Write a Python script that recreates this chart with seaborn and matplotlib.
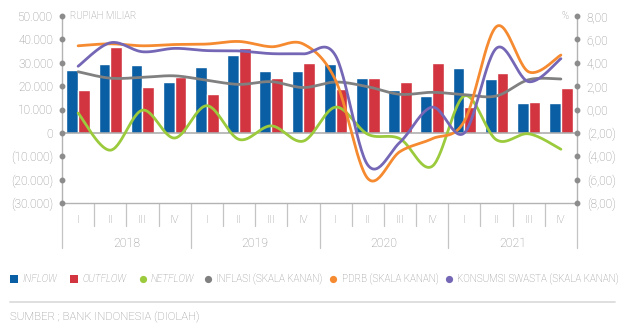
import numpy as np
import pandas as pd
import matplotlib
matplotlib.use("Agg")
import matplotlib.pyplot as plt
import matplotlib.transforms as mtransforms
from matplotlib.lines import Line2D
from matplotlib import font_manager
import seaborn as sns

# ---- data (Rp miliar for flows, % yoy for right-axis series) ----
years = ["2018", "2019", "2020", "2021"]
quarter_labels = ["I", "II", "III", "IV"]
inflow = [27000, 29300, 29000, 21700, 28000, 33500, 26400, 26600,
          29600, 23300, 18500, 15900, 27600, 22900, 12600, 12600]
outflow = [18500, 36700, 19500, 24100, 16500, 36200, 23500, 30000,
           18800, 23600, 21700, 30100, 11100, 25600, 13100, 19400]
netflow = [8500, -7400, 9700, -2200, 11600, -2800, 3000, -3500,
           11000, -600, -2500, -14300, 15800, -3000, -400, -7000]
inflasi = [3.23, 2.68, 2.75, 2.88, 2.50, 2.15, 2.38, 1.88,
           2.35, 1.95, 1.30, 1.47, 1.27, 1.16, 2.55, 2.61]
pdrb = [5.45, 5.62, 5.45, 5.56, 5.60, 5.82, 5.37, 5.60,
        2.50, -5.90, -3.60, -2.50, -1.00, 7.10, 3.22, 4.66]
konsumsi = [3.70, 5.71, 4.94, 5.23, 5.04, 5.01, 4.78, 4.76,
            4.60, -4.75, -2.80, 0.20, -2.00, 5.25, 2.38, 4.35]

BLUE, RED, GREEN = "#0a5ea4", "#d2353f", "#9bcb3c"
GREY, ORANGE, PURPLE = "#808080", "#f58a30", "#7567b5"
TXT = "#8a8a8a"
AXIS = "#b3b3b3"

sns.set_theme(style="white")
available = {f.name for f in font_manager.fontManager.ttflist}
base_font = "Roboto" if "Roboto" in available else "DejaVu Sans"
plt.rcParams["font.family"] = [base_font, "DejaVu Sans"]
plt.rcParams["font.weight"] = "light"

W, H = 621, 324
fig = plt.figure(figsize=(W / 100, H / 100), dpi=100)
ax = fig.add_axes([62 / W, 1 - 203 / H, 515 / W, 187 / H])


def fx(px):
    return px / W


def fy(py):
    return 1 - py / H


def smooth(values, steps=30):
    """Bezier smoothing through every point (Catmull-Rom style tangents)."""
    y = np.asarray(values, float)
    n = len(y)
    pts = np.column_stack([np.arange(n, dtype=float), y])
    t = np.linspace(0, 1, steps + 1)[1:, None]
    out = [pts[0]]
    for i in range(n - 1):
        p0, p3 = pts[i], pts[i + 1]
        prev = pts[i - 1] if i > 0 else pts[i]
        nxt = pts[i + 2] if i + 2 < n else pts[i + 1]
        c1 = p0 + (p3 - prev) / 6
        c2 = p3 - (nxt - p0) / 6
        seg = ((1 - t) ** 3) * p0 + 3 * ((1 - t) ** 2) * t * c1 \
            + 3 * (1 - t) * t ** 2 * c2 + t ** 3 * p3
        out.extend(seg)
    out = np.array(out)
    return out[:, 0], out[:, 1]


periods = [f"{y}-{q}" for y in years for q in quarter_labels]
bars = pd.DataFrame({
    "period": periods * 2,
    "value": inflow + outflow,
    "series": ["INFLOW"] * 16 + ["OUTFLOW"] * 16,
})
sns.barplot(data=bars, x="period", y="value", hue="series", order=periods,
            hue_order=["INFLOW", "OUTFLOW"], palette=[BLUE, RED],
            width=0.73, saturation=1, errorbar=None, legend=False, ax=ax,
            zorder=2)

ax.axhline(0, color="#a8a8a8", lw=1.1, zorder=2.5)

xs, ys = smooth(netflow)
sns.lineplot(x=xs, y=ys, sort=False, estimator=None, color=GREEN, lw=2.0,
             ax=ax, zorder=3)

ax.set_xlim(-0.5, 15.5)
ax.set_ylim(-30000, 50000)
left_ticks = list(range(-30000, 50001, 10000))
ax.set_yticks(left_ticks)
ax.set_yticklabels([f"{v:,.0f}".replace(",", ".") if v >= 0
                    else "(" + f"{-v:,.0f}".replace(",", ".") + ")"
                    for v in left_ticks])
ax.set_xticks([])
ax.set_xlabel("")
ax.set_ylabel("")
ax.tick_params(axis="y", length=0, pad=6.5, labelsize=8.6, labelcolor=TXT)

ax2 = ax.twinx()
for vals, col in [(inflasi, GREY), (pdrb, ORANGE), (konsumsi, PURPLE)]:
    xs, ys = smooth(vals)
    sns.lineplot(x=xs, y=ys, sort=False, estimator=None, color=col, lw=2.0,
                 ax=ax2)
ax2.set_xlim(-0.5, 15.5)
ax2.set_ylim(-8, 8)
right_ticks = list(range(-8, 9, 2))
ax2.set_yticks(right_ticks)
ax2.set_yticklabels([f"{v:.2f}".replace(".", ",") if v >= 0
                     else "(" + f"{-v:.2f}".replace(".", ",") + ")"
                     for v in right_ticks])
ax2.set_ylabel("")
ax2.tick_params(axis="y", length=0, pad=7, labelsize=8.6, labelcolor=TXT)

for a in (ax, ax2):
    a.spines["top"].set_visible(False)
    a.grid(False)
ax.spines["right"].set_visible(False)
ax2.spines["left"].set_visible(False)
ax2.spines["bottom"].set_visible(False)
ax.spines["left"].set_color(AXIS)
ax.spines["bottom"].set_color(AXIS)
ax2.spines["right"].set_color(AXIS)
for s in ("left", "bottom"):
    ax.spines[s].set_linewidth(1.0)
ax2.spines["right"].set_linewidth(1.0)

# tick dots on both value axes
lt = mtransforms.blended_transform_factory(ax.transAxes, ax.transData)
ax.plot([0] * len(left_ticks), left_ticks, "o", ms=3.2, color="#8c8c8c",
        transform=lt, clip_on=False, zorder=5)
rt = mtransforms.blended_transform_factory(ax2.transAxes, ax2.transData)
ax2.plot([1] * len(right_ticks), right_ticks, "o", ms=3.2, color="#8c8c8c",
         transform=rt, clip_on=False, zorder=5)

# category axis: quarters and years
ct = mtransforms.blended_transform_factory(ax.transData, ax.transAxes)
for k in range(17):
    xpos = k - 0.5
    bottom = -0.239 if k % 4 == 0 else -0.121
    ax.plot([xpos, xpos], [0, bottom], color="#c4c4c4", lw=0.9,
            transform=ct, clip_on=False)
for k, q in enumerate(quarter_labels * 4):
    ax.text(k, -0.091, q, transform=ct, ha="center", va="center",
            fontsize=8, color=TXT)
for j, yr in enumerate(years):
    ax.text(4 * j + 1.5, -0.214, yr, transform=ct, ha="center",
            va="center", fontsize=8.8, color=TXT)

# unit captions
fig.text(fx(70.5), fy(16), "RUPIAH MILIAR", fontsize=6.9, color=TXT,
         ha="left", va="center")
fig.text(fx(568.5), fy(16), "%", fontsize=6.9, color=TXT, ha="right",
         va="center")

# legend
ly = fy(279)
legend_items = [
    ("s", BLUE, 14.0, 22.0, "INFLOW", "italic"),
    ("s", RED, 74.3, 82.7, "OUTFLOW", "italic"),
    ("o", GREEN, 143.0, 151.0, "NETFLOW", "italic"),
    ("o", GREY, 208.0, 216.0, "INFLASI (SKALA KANAN)", "normal"),
    ("o", ORANGE, 333.3, 341.7, "PDRB (SKALA KANAN)", "normal"),
    ("o", PURPLE, 449.3, 456.7, "KONSUMSI SWASTA (SKALA KANAN)", "normal"),
]
for marker, col, mx, tx, label, style in legend_items:
    fig.add_artist(Line2D([fx(mx)], [ly], marker=marker, color=col,
                          ms=5.8 if marker == "s" else 5.2, lw=0,
                          markeredgewidth=0, transform=fig.transFigure))
    fig.text(fx(tx), ly, label, fontsize=7.1, color=TXT, style=style,
             ha="left", va="center")

fig.add_artist(Line2D([fx(10), fx(615)], [fy(302.3), fy(302.3)],
                      color="#dcdcdc", lw=1.3, transform=fig.transFigure))
fig.text(fx(10), fy(317), "SUMBER ; BANK INDONESIA (DIOLAH)", fontsize=8.2,
         color=TXT, ha="left", va="center")

fig.savefig("out.png", dpi=100, facecolor="white")
